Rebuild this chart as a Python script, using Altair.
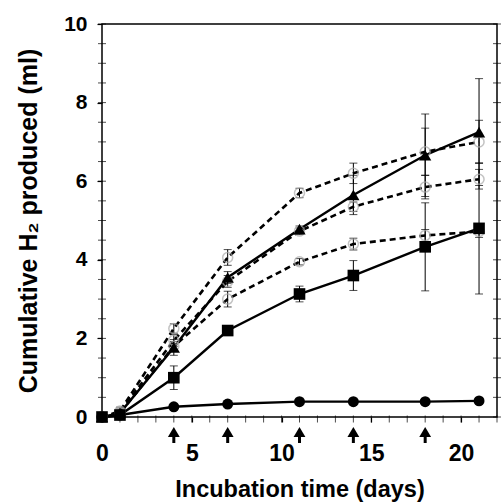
import altair as alt
import pandas as pd

days = [0, 1, 4, 7, 11, 14, 18, 21]

circle_filled = [0, 0.05, 0.26, 0.33, 0.39, 0.39, 0.39, 0.41]
circle_filled_err = [0, 0.02, 0.03, 0.03, 0.03, 0.03, 0.03, 0.03]
square_filled = [0, 0.05, 1.0, 2.2, 3.13, 3.6, 4.33, 4.8]
square_filled_err = [0, 0.03, 0.3, 0.08, 0.2, 0.38, 1.12, 1.67]
triangle_filled = [0, 0.1, 1.77, 3.55, 4.78, 5.65, 6.66, 7.25]
triangle_filled_err = [0, 0.05, 0.2, 0.15, 0.08, 0.5, 1.05, 1.36]
open_top = [0, 0.15, 2.25, 4.06, 5.7, 6.2, 6.75, 7.0]
open_top_err = [0, 0.1, 0.12, 0.2, 0.12, 0.26, 0.6, 0.55]
open_mid = [0, 0.12, 1.95, 3.45, 4.73, 5.35, 5.85, 6.05]
open_mid_err = [0, 0.08, 0.15, 0.15, 0.08, 0.12, 0.3, 0.25]
open_low = [0, 0.1, 1.8, 3.0, 3.95, 4.4, 4.62, 4.72]
open_low_err = [0, 0.05, 0.12, 0.2, 0.08, 0.15, 0.15, 0.15]

arrow_days = [4, 7, 11, 14, 18]
x_labels = [0, 5, 10, 15, 20]
x_minor = list(range(0, 23))
y_labels = [0, 2, 4, 6, 8, 10]
y_minor = [i * 0.5 for i in range(0, 21)]

FONT = "Liberation Sans"

rows = []
series = [
    ("filled circle", circle_filled, circle_filled_err),
    ("filled square", square_filled, square_filled_err),
    ("filled triangle", triangle_filled, triangle_filled_err),
    ("open top", open_top, open_top_err),
    ("open mid", open_mid, open_mid_err),
    ("open low", open_low, open_low_err),
]
for name, vals, errs in series:
    for d, v, e in zip(days, vals, errs):
        rows.append({"series": name, "day": d, "h2": v, "lo": max(v - e, 0), "hi": v + e})
df = pd.DataFrame(rows)

xs = alt.Scale(domain=[0, 22], nice=False)
ys = alt.Scale(domain=[0, 10], nice=False)

x_enc = alt.X("day:Q", scale=xs, axis=alt.Axis(
    values=x_labels, labelOverlap=False, labelFlush=False,
    title="Incubation time (days)", tickSize=5, labelPadding=31,
    labelBaseline="middle", titleY=72, titleBaseline="middle",
    grid=False, domain=False))
y_enc = alt.Y("h2:Q", scale=ys, axis=alt.Axis(
    values=y_labels, title="Cumulative H\u2082 produced (ml)",
    tickSize=5, labelPadding=10, titleX=-74, titleBaseline="middle",
    labelFlush=False, labelOverlap=False,
    grid=False, domain=False))

base = alt.Chart(df)

err_rule = base.mark_rule(color="black", strokeWidth=1).encode(
    x=x_enc, y=alt.Y("lo:Q", scale=ys), y2="hi:Q")
cap_lo = base.mark_tick(color="black", thickness=1, size=8, orient="horizontal").encode(
    x="day:Q", y=alt.Y("lo:Q", scale=ys))
cap_hi = base.mark_tick(color="black", thickness=1, size=8, orient="horizontal").encode(
    x="day:Q", y=alt.Y("hi:Q", scale=ys))

solid = base.transform_filter("indexof(datum.series, 'filled') == 0")
dashed = base.transform_filter("indexof(datum.series, 'open') == 0")

solid_lines = solid.mark_line(color="black", strokeWidth=2.4).encode(
    x=x_enc, y=y_enc, detail="series:N")
dashed_lines = dashed.mark_line(color="black", strokeWidth=2.6, strokeDash=[6, 4]).encode(
    x=x_enc, y=y_enc, detail="series:N")

open_pts = dashed.mark_point(shape="circle", filled=False, color="#aaaaaa", strokeWidth=1.5, size=100).encode(
    x="day:Q", y=alt.Y("h2:Q", scale=ys))

shape_scale = alt.Scale(domain=["filled circle", "filled square", "filled triangle"],
                        range=["circle", "square", "triangle-up"])
size_scale = alt.Scale(domain=["filled circle", "filled square", "filled triangle"],
                       range=[120, 150, 100])
solid_pts = solid.mark_point(filled=True, color="black", opacity=1).encode(
    x="day:Q", y=alt.Y("h2:Q", scale=ys),
    shape=alt.Shape("series:N", scale=shape_scale, legend=None),
    size=alt.Size("series:N", scale=size_scale, legend=None))

arrows_df = pd.DataFrame({"day": arrow_days})
arrow_shaft = alt.Chart(arrows_df).mark_rule(color="black", strokeWidth=3).encode(
    x=alt.X("day:Q", scale=xs), y=alt.value(409), y2=alt.value(419))
arrow_head = alt.Chart(arrows_df).mark_point(shape="triangle-up", filled=True, color="black",
                                             opacity=1, size=140).encode(
    x=alt.X("day:Q", scale=xs), y=alt.value(408))

ymin_df = pd.DataFrame({"v": y_minor})
left_minor = alt.Chart(ymin_df).mark_tick(color="black", thickness=1, size=8, orient="horizontal").encode(
    y=alt.Y("v:Q", scale=ys), x=alt.value(0))
right_minor = alt.Chart(ymin_df).mark_tick(color="black", thickness=1, size=8, orient="horizontal").encode(
    y=alt.Y("v:Q", scale=ys), x=alt.value(395))
xmin_df = pd.DataFrame({"d": x_minor})
bottom_minor = alt.Chart(xmin_df).mark_tick(color="black", thickness=1, size=7, orient="vertical").encode(
    x=alt.X("d:Q", scale=xs), y=alt.value(395))

chart = alt.layer(
    left_minor, right_minor, bottom_minor,
    err_rule, cap_lo, cap_hi,
    dashed_lines, solid_lines, open_pts, solid_pts,
    arrow_shaft, arrow_head,
).properties(
    width=395, height=393,
    autosize=alt.AutoSizeParams(type="none"),
    padding={"left": 102, "top": 24, "right": 6, "bottom": 87},
).configure(
    background="white"
).configure_view(
    stroke="black", strokeWidth=1.5
).configure_axis(
    labelFont=FONT, titleFont=FONT, labelFontWeight="bold", titleFontWeight="bold",
    labelColor="black", titleColor="black", tickColor="black", tickWidth=1.2,
).configure_axisX(
    labelFontSize=23, titleFontSize=23.5
).configure_axisY(
    labelFontSize=21, titleFontSize=25
)

chart.save("out.html", embed_options={"renderer": "svg", "actions": False})
